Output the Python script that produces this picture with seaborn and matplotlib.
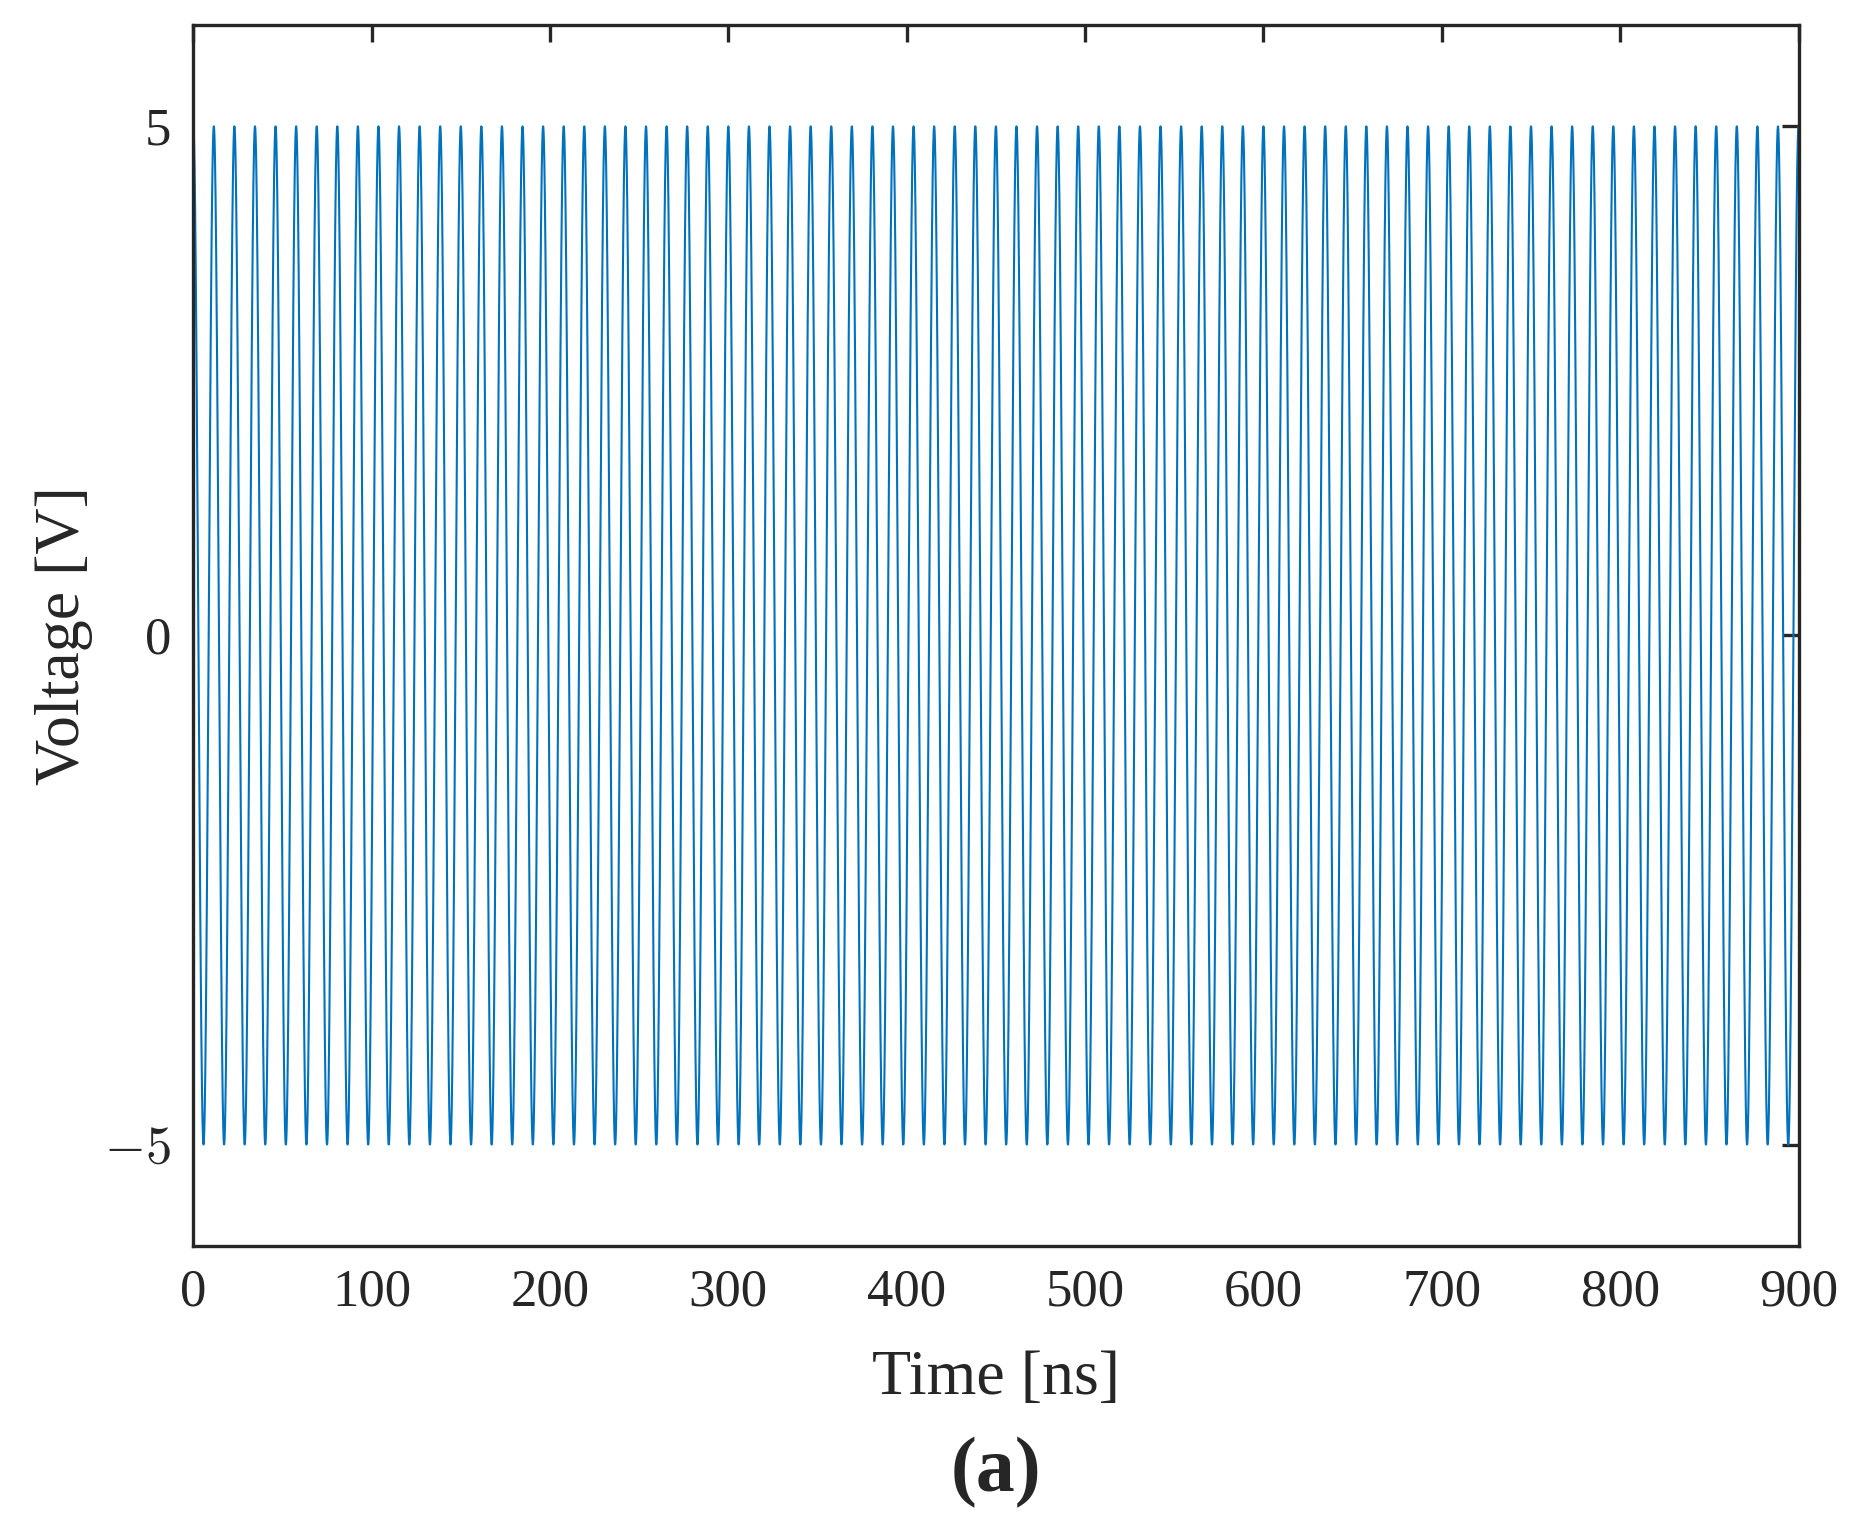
import numpy as np
import matplotlib.pyplot as plt
import seaborn as sns

sns.set_style("white")
plt.rcParams['font.family'] = ['Liberation Serif', 'DejaVu Serif']
plt.rcParams['mathtext.fontset'] = 'cm'

# signal parameters
amplitude_v = 5.0
n_cycles = 78          # full cycles over the window
t_end_ns = 900.0
x_ticks = [0, 100, 200, 300, 400, 500, 600, 700, 800, 900]
y_ticks = [-5, 0, 5]
y_tick_labels = [r'$-5$', '0', '5']

t = np.linspace(0, t_end_ns, 20000)
v = amplitude_v * np.cos(2 * np.pi * n_cycles * t / t_end_ns)

fig = plt.figure(figsize=(9.29, 7.665), dpi=200)
ax = fig.add_axes([0.104, 0.187, 0.864, 0.797])
sns.lineplot(x=t, y=v, ax=ax, color='#0072BD', linewidth=0.75)

ax.set_xlim(0, 900)
ax.set_ylim(-6, 6)
ax.set_xticks(x_ticks)
ax.set_yticks(y_ticks)
ax.set_yticklabels(y_tick_labels)
ax.tick_params(direction='in', top=True, right=True, length=6, width=1.2,
               labelsize=19, colors='#262626', pad=8)
for s in ax.spines.values():
    s.set_linewidth(1.2)
    s.set_color('#262626')
ax.set_xlabel('Time [ns]', fontsize=23, color='#262626', labelpad=12)
ax.set_ylabel('Voltage [V]', fontsize=23, color='#262626')
fig.text(0.536, 0.027, '(a)', ha='center', fontsize=28, fontweight='bold')

fig.savefig('out.png', dpi=200)
